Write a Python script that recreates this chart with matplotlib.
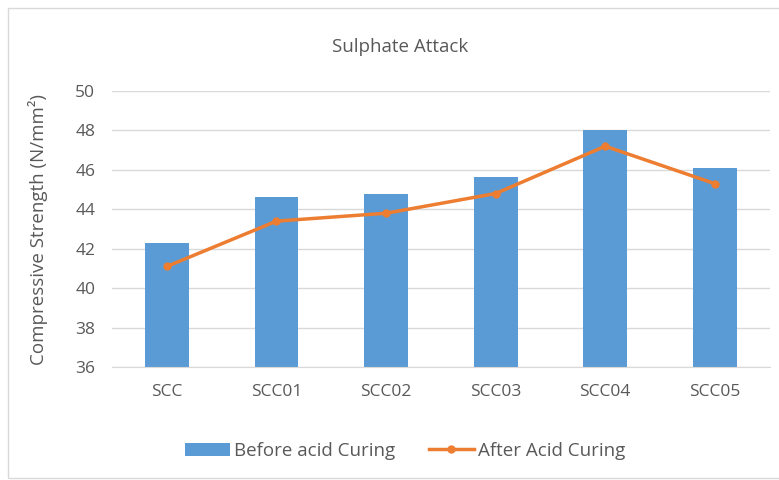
import numpy as np
import matplotlib
matplotlib.use("Agg")
import matplotlib.pyplot as plt
from matplotlib.patches import Rectangle

categories = ["SCC", "SCC01", "SCC02", "SCC03", "SCC04", "SCC05"]
before = [42.3, 44.6, 44.8, 45.65, 48.0, 46.1]
after = [41.1, 43.4, 43.8, 44.8, 47.2, 45.3]
yticks = [36, 38, 40, 42, 44, 46, 48, 50]

plt.rcParams['font.family'] = ['Open Sans', 'DejaVu Sans']
txt = '#595959'

fig = plt.figure(figsize=(7.79, 4.8), dpi=100)
ax = fig.add_axes([0.1438, 0.2354, 0.8442, 0.575])

x = np.arange(len(categories))
bars = ax.bar(x, [b - 36 for b in before], bottom=36, width=0.4, color='#5B9BD5',
              zorder=2, label='Before acid Curing')
line, = ax.plot(x, after, color='#ED7D31', lw=2.5, marker='o', ms=5,
                zorder=3, label='After Acid Curing')

ax.set_xlim(-0.5, len(categories) - 0.5)
ax.set_ylim(36, 50)
ax.set_yticks(yticks)
ax.set_xticks(x)
ax.set_xticklabels(categories)
ax.grid(axis='y', color='#D9D9D9', lw=1, zorder=0)
for s in ['top', 'right', 'left']:
    ax.spines[s].set_visible(False)
ax.spines['bottom'].set_color('#D9D9D9')
ax.tick_params(length=0, colors=txt, labelsize=12.5)
ax.tick_params(axis='y', pad=12)
ax.tick_params(axis='x', pad=12)
ax.set_ylabel('Compressive Strength (N/mm²)', color=txt, fontsize=13.5)
ax.yaxis.set_label_coords(-0.097, 0.5)

fig.text(400 / 779, 1 - 47 / 480, 'Sulphate Attack', ha='center', va='center',
         color=txt, fontsize=13.5)

fig.legend([bars, line], ['Before acid Curing', 'After Acid Curing'],
           loc='center', bbox_to_anchor=(405 / 779, 1 - 451 / 480), ncol=2,
           frameon=False, fontsize=13.5, labelcolor=txt, handlelength=2.4,
           columnspacing=1.8, handletextpad=0.2)

fig.patches.append(Rectangle((8 / 779, 2 / 480), 1 - 8 / 779 + 0.01, 1 - 10 / 480,
                             transform=fig.transFigure, fill=False,
                             edgecolor='#D9D9D9', lw=1))

fig.savefig('out.png', dpi=100)
